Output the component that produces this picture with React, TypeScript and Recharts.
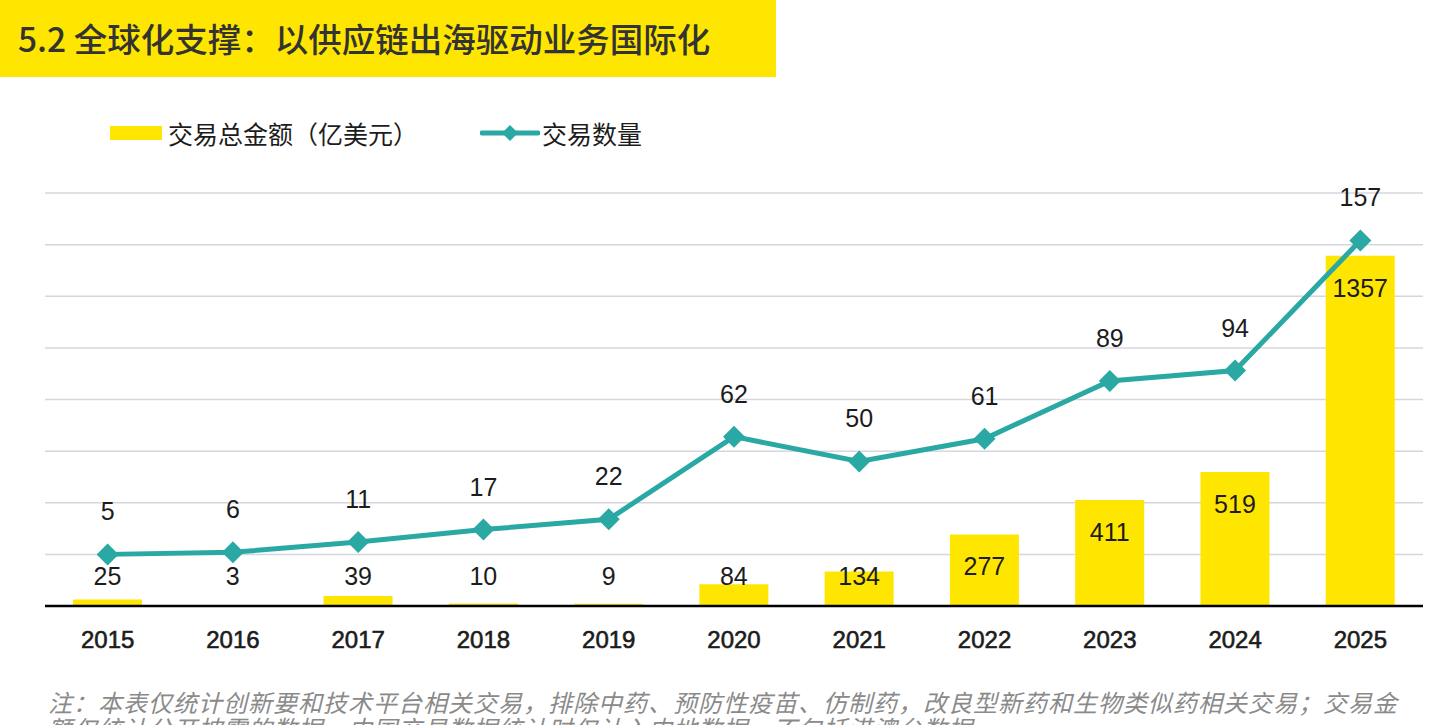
import { ComposedChart, Bar, Line, XAxis, YAxis, CartesianGrid, LabelList } from "recharts";

const years = ["2015", "2016", "2017", "2018", "2019", "2020", "2021", "2022", "2023", "2024", "2025"];
const amounts = [25, 3, 39, 10, 9, 84, 134, 277, 411, 519, 1357];
const counts = [5, 6, 11, 17, 22, 62, 50, 61, 89, 94, 157];

const amountTicks = [0, 200, 400, 600, 800, 1000, 1200, 1400, 1600];

const YELLOW = "#ffe600";
const TEAL = "#2aa8a3";
const NUM_FONT = "'Liberation Sans', Arial, sans-serif";
const CJK_FONT = "'Noto Sans CJK SC', 'Noto Sans', sans-serif";

const data = years.map((year, i) => ({ year, amount: amounts[i], count: counts[i] }));

// Diamond marker for the deal-count line
const Diamond = (props: any) => {
  const { cx, cy } = props;
  if (cx == null || cy == null) return null;
  const r = 11;
  return (
    <path
      d={`M${cx},${cy - r} L${cx + r},${cy} L${cx},${cy + r} L${cx - r},${cy} Z`}
      fill={TEAL}
    />
  );
};

// Amount label sits inside the bar top, but never lower than the baseline row
const BarValue = (props: any) => {
  const { x, y, width, value } = props;
  const cy = Math.min(y + 32, 576);
  return (
    <text
      x={x + width / 2}
      y={cy}
      dy="0.36em"
      textAnchor="middle"
      fill="#1c1c1c"
      fontSize={25}
      fontFamily={NUM_FONT}
    >
      {value}
    </text>
  );
};

const LineValue = (props: any) => {
  const { x, y, value } = props;
  return (
    <text
      x={x}
      y={y - 43}
      dy="0.36em"
      textAnchor="middle"
      fill="#1c1c1c"
      fontSize={25}
      fontFamily={NUM_FONT}
    >
      {value}
    </text>
  );
};

export default function App() {
  return (
    <div
      style={{
        position: "absolute",
        left: 0,
        top: 0,
        width: 1451,
        height: 725,
        overflow: "hidden",
        background: "#fff",
      }}
    >
      {/* section header */}
      <div
        style={{
          position: "absolute",
          left: 0,
          top: 0,
          width: 776,
          height: 77,
          background: YELLOW,
        }}
      >
        <div
          style={{
            position: "absolute",
            left: 18,
            top: 15,
            fontFamily: CJK_FONT,
            fontSize: 33.5,
            lineHeight: "46px",
            fontWeight: 500,
            color: "#333",
            whiteSpace: "nowrap",
          }}
        >
          5.2 全球化支撑：以供应链出海驱动业务国际化
        </div>
      </div>

      {/* legend */}
      <div
        style={{
          position: "absolute",
          left: 110,
          top: 118,
          height: 30,
          display: "flex",
          alignItems: "center",
          fontFamily: CJK_FONT,
          fontSize: 25,
          color: "#1c1c1c",
          whiteSpace: "nowrap",
        }}
      >
        <span style={{ display: "inline-block", width: 52, height: 14, background: YELLOW, marginRight: 6 }} />
        <span>交易总金额（亿美元）</span>
        <svg width={60} height={30} style={{ marginLeft: 62 }}>
          <line x1={2} y1={15} x2={58} y2={15} stroke={TEAL} strokeWidth={5} strokeLinecap="round" />
          <path d="M30,7 L38,15 L30,23 L22,15 Z" fill={TEAL} />
        </svg>
        <span style={{ marginLeft: 2 }}>交易数量</span>
      </div>

      <div style={{ position: "absolute", left: 0, top: 0 }}>
        <ComposedChart
          width={1451}
          height={660}
          data={data}
          margin={{ top: 193, right: 28, bottom: 14, left: 45 }}
        >
          <CartesianGrid yAxisId="amt" vertical={false} stroke="#d6d6de" strokeWidth={1.5} />
          <XAxis
            dataKey="year"
            axisLine={{ stroke: "#000", strokeWidth: 2.5 }}
            tickLine={false}
            tickSize={0}
            tickMargin={25}
            height={40}
            interval={0}
            tick={{
              fill: "#1c1c1c",
              stroke: "#1c1c1c",
              strokeWidth: 0.6,
              fontSize: 24,
              fontFamily: NUM_FONT,
            }}
          />
          <YAxis yAxisId="amt" hide domain={[0, 1600]} ticks={amountTicks} />
          <YAxis yAxisId="cnt" hide orientation="right" domain={[-20, 180]} />
          <Bar yAxisId="amt" dataKey="amount" fill={YELLOW} barSize={69} isAnimationActive={false}>
            <LabelList dataKey="amount" content={<BarValue />} />
          </Bar>
          <Line
            yAxisId="cnt"
            dataKey="count"
            stroke={TEAL}
            strokeWidth={5}
            dot={<Diamond />}
            activeDot={false}
            isAnimationActive={false}
          >
            <LabelList dataKey="count" content={<LineValue />} />
          </Line>
        </ComposedChart>
      </div>

      {/* footnote */}
      <div
        style={{
          position: "absolute",
          left: 48,
          top: 689,
          width: 1365,
          fontFamily: CJK_FONT,
          fontSize: 24,
          lineHeight: "26px",
          letterSpacing: 1,
          fontStyle: "italic",
          color: "#8a8a8a",
        }}
      >
        注：本表仅统计创新要和技术平台相关交易，排除中药、预防性疫苗、仿制药，改良型新药和生物类似药相关交易；交易金额仅统计公开披露的数据，中国交易数据统计时仅计入内地数据，不包括港澳台数据
      </div>
    </div>
  );
}
